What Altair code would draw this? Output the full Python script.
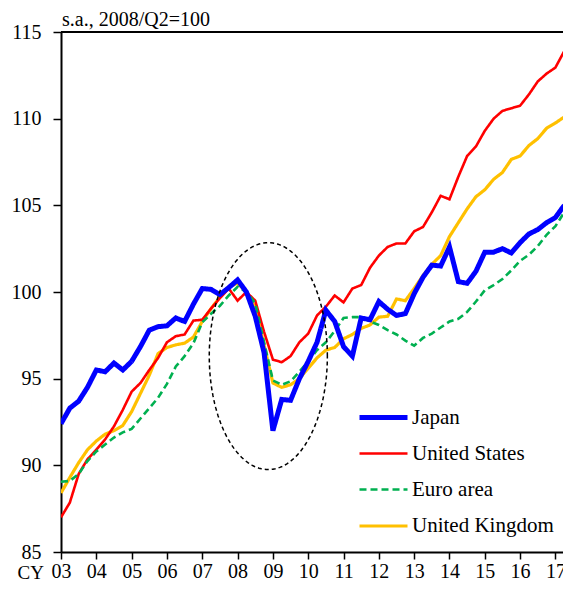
import altair as alt
import pandas as pd
import numpy as np

# quarterly, 2003Q1 .. 2017Q2
quarters = [2003 + i / 4 for i in range(58)]

japan = [92.4, 93.3, 93.7, 94.5,
         95.5, 95.4, 95.9, 95.5,
         96.0, 96.85, 97.8, 98.0,
         98.05, 98.5, 98.3, 99.3,
         100.2, 100.15, 99.85, 100.25,
         100.7, 100.0, 98.6, 96.5,
         92.0, 93.8, 93.75, 95.0,
         96.0, 97.1, 98.95, 98.3,
         96.85, 96.3, 98.5, 98.4,
         99.45, 99.0, 98.65, 98.75,
         99.9, 100.85, 101.55, 101.5,
         102.6, 100.6, 100.5, 101.2,
         102.3, 102.3, 102.5, 102.25,
         102.85, 103.35, 103.6, 104.0,
         104.3, 105.0]

united_states = [87.0, 87.85, 89.5, 90.35,
                 90.9, 91.5, 92.25, 93.2,
                 94.25, 94.75, 95.5, 96.2,
                 97.1, 97.45, 97.55, 98.35,
                 98.4, 99.05, 99.65, 100.2,
                 99.5, 100.0, 99.5, 97.7,
                 96.1, 95.95, 96.3, 97.1,
                 97.6, 98.65, 99.15, 99.8,
                 99.4, 100.2, 100.4, 101.4,
                 102.1, 102.6, 102.8, 102.8,
                 103.5, 103.75, 104.6, 105.55,
                 105.35, 106.65, 107.85, 108.4,
                 109.3, 110.0, 110.45, 110.6,
                 110.75, 111.4, 112.15, 112.6,
                 112.95, 113.9]

euro_area = [89.05, 89.1, 89.5, 90.25,
             90.8, 91.2, 91.6, 91.9,
             92.1, 92.7, 93.3, 93.9,
             94.7, 95.7, 96.3, 97.05,
             98.25, 98.75, 99.2, 99.8,
             100.3, 100.0, 99.35, 97.1,
             94.9, 94.65, 94.85, 95.4,
             96.0, 96.65, 97.1, 97.75,
             98.5, 98.55, 98.55, 98.3,
             98.1, 97.8, 97.55, 97.2,
             96.9, 97.35, 97.6, 97.95,
             98.3, 98.45, 98.85, 99.45,
             100.1, 100.4, 100.75, 101.25,
             101.8, 102.15, 102.65, 103.3,
             103.8, 104.6]

united_kingdom = [88.4, 89.3, 90.15, 90.9,
                  91.4, 91.8, 92.0, 92.3,
                  93.1, 94.15, 95.2, 96.45,
                  96.8, 96.95, 97.05, 97.4,
                  98.3, 99.05, 99.7, 100.3,
                  100.5, 100.0, 99.1, 96.95,
                  94.75, 94.5, 94.65, 95.0,
                  95.6, 96.2, 96.65, 96.8,
                  97.3, 97.55, 97.9, 98.1,
                  98.55, 98.6, 99.6, 99.5,
                  100.2, 100.95, 101.6, 102.1,
                  103.2, 104.0, 104.8, 105.5,
                  105.9, 106.5, 106.9, 107.65,
                  107.85, 108.45, 108.85, 109.45,
                  109.75, 110.1]

series_names = ["Japan", "United States", "Euro area", "United Kingdom"]
series_colors = ["#0000FF", "#FF0000", "#00B050", "#FFC000"]
series_widths = [5.0, 2.6, 2.6, 3.2]
series_dashes = [[1, 0], [1, 0], [7, 4], [1, 0]]

year_ticks = list(range(2003, 2018))
y_ticks = [85, 90, 95, 100, 105, 110, 115]
title_text = "s.a., 2008/Q2=100"

# dashed ellipse highlighting the 2008-09 drop (center / radii in data units)
ellipse_center = [2008.87, 96.3]
ellipse_radii = [1.672, 6.545]

FONT = "Liberation Serif, Times New Roman, Times, serif"

rows = []
for name, vals in [("United Kingdom", united_kingdom), ("United States", united_states),
                   ("Euro area", euro_area), ("Japan", japan)]:
    for q, v in zip(quarters, vals):
        rows.append({"x": q, "value": v, "series": name})
df = pd.DataFrame(rows)

t = np.linspace(0, 2 * np.pi, 161)
ell = pd.DataFrame({
    "x": ellipse_center[0] + ellipse_radii[0] * np.cos(t),
    "value": ellipse_center[1] + ellipse_radii[1] * np.sin(t),
    "i": np.arange(len(t)),
})

x_axis = alt.Axis(values=year_ticks,
                  labelExpr="format(datum.value % 100, '02d')",
                  title="CY", titleAngle=0, titleAlign="left",
                  titleBaseline="bottom", titleX=-44, titleY=30,
                  titleFontSize=19, titleFontWeight="normal", titleFont=FONT,
                  titleColor="black",
                  labelFontSize=20, labelFont=FONT, labelColor="black",
                  labelPadding=2, tickSize=7, tickColor="black", tickWidth=1.5,
                  domainColor="black", domainWidth=2, grid=False,
                  labelFlush=False, labelOverlap=False)
y_axis = alt.Axis(values=y_ticks, title=None,
                  labelFontSize=20, labelFont=FONT, labelColor="black",
                  labelPadding=12, tickSize=8, tickColor="black", tickWidth=1.5,
                  domainColor="black", domainWidth=2, grid=False,
                  labelOverlap=False)
x_scale = alt.Scale(domain=[2003, 2017.214], nice=False, zero=False)
y_scale = alt.Scale(domain=[85, 115], nice=False, zero=False)

leg = dict(title=None, orient="none", legendX=296, legendY=359,
           symbolType="stroke", symbolSize=2304,
           labelFontSize=21, labelFont=FONT, labelColor="black",
           labelOffset=2, rowPadding=-7.3, padding=0)

lines = alt.Chart(df).mark_line(clip=True).encode(
    x=alt.X("x:Q", scale=x_scale, axis=x_axis),
    y=alt.Y("value:Q", scale=y_scale, axis=y_axis),
    color=alt.Color("series:N",
                    scale=alt.Scale(domain=series_names, range=series_colors),
                    legend=alt.Legend(**leg)),
    strokeDash=alt.StrokeDash("series:N",
                              scale=alt.Scale(domain=series_names, range=series_dashes),
                              legend=alt.Legend(**leg)),
    strokeWidth=alt.StrokeWidth("series:N",
                                scale=alt.Scale(type="ordinal", domain=series_names,
                                                range=series_widths),
                                legend=alt.Legend(**leg)),
)

ellipse = alt.Chart(ell).mark_line(color="black", strokeWidth=1.5, strokeDash=[4, 3]).encode(
    x=alt.X("x:Q", scale=x_scale, axis=x_axis),
    y=alt.Y("value:Q", scale=y_scale, axis=y_axis),
    order="i:Q")

top_border = alt.Chart(df).mark_rule(color="black", strokeWidth=2).encode(
    y=alt.datum(115))

title_mark = alt.Chart(pd.DataFrame({"t": [title_text]})).mark_text(
    align="left", baseline="alphabetic", fontSize=20, font=FONT, color="black"
).encode(x=alt.value(1), y=alt.value(-6), text="t:N")

chart = alt.layer(lines, ellipse, top_border, title_mark).properties(
    width=502, height=520,
    padding={"left": 53, "top": 24, "right": 0, "bottom": 30},
    autosize="none",
).configure_view(stroke=None).configure(font=FONT, background="white")

chart.save("out.html", embed_options={"renderer": "svg", "actions": False})
